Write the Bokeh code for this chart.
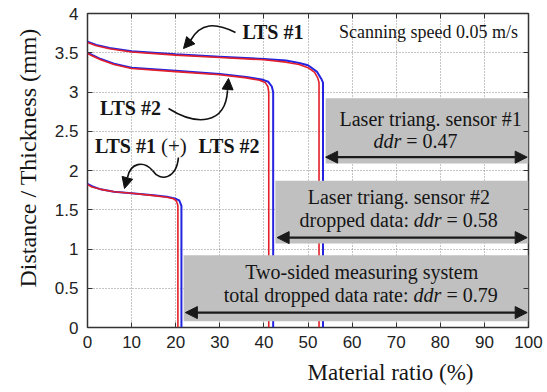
import math
from bokeh.plotting import figure
from bokeh.models import Range1d, FixedTicker, Label, Arrow, NormalHead, LinearAxis, Title
from bokeh.embed import file_html
from bokeh.resources import INLINE

# ---------------- data ----------------
x_ticks = [0, 10, 20, 30, 40, 50, 60, 70, 80, 90, 100]
x_tick_labels = ["0", "10", "20", "30", "40", "50", "60", "70", "80", "90", "100"]
y_ticks = [0.0, 0.5, 1.0, 1.5, 2.0, 2.5, 3.0, 3.5, 4.0]
y_tick_labels = ["0", "0.5", "1", "1.5", "2", "2.5", "3", "3.5", "4"]

# LTS #1 (sensor 1)
lts1_red_x = [0, 2, 5, 10, 20, 30, 40, 45, 48, 50, 51.5, 52.2, 52.5, 52.5]
lts1_red_y = [3.63, 3.59, 3.55, 3.51, 3.47, 3.44, 3.41, 3.38, 3.35, 3.31, 3.25, 3.18, 3.12, 0]
lts1_blue_x = [0, 2, 5, 10, 20, 30, 40, 45, 48, 50, 52, 53, 53.4, 53.4]
lts1_blue_y = [3.64, 3.60, 3.56, 3.52, 3.48, 3.45, 3.42, 3.40, 3.37, 3.34, 3.26, 3.17, 3.12, 0]

# LTS #2 (sensor 2)
lts2_red_x = [0, 1.5, 3, 6, 10, 20, 30, 36, 39, 40.3, 40.9, 41.1, 41.1]
lts2_red_y = [3.49, 3.45, 3.41, 3.35, 3.30, 3.26, 3.22, 3.18, 3.15, 3.12, 3.07, 3.00, 0]
lts2_blue_x = [0, 1.5, 3, 6, 10, 20, 30, 36, 39.5, 41, 41.8, 42.1, 42.1]
lts2_blue_y = [3.50, 3.46, 3.42, 3.36, 3.31, 3.27, 3.23, 3.19, 3.16, 3.13, 3.07, 3.00, 0]

# LTS #1 (+) LTS #2 (two-sided)
lts12_red_x = [0, 1, 3, 6, 10, 15, 18, 19.5, 20.2, 20.5, 20.5]
lts12_red_y = [1.82, 1.79, 1.76, 1.73, 1.71, 1.68, 1.66, 1.64, 1.61, 1.55, 0]
lts12_blue_x = [0, 1, 3, 6, 10, 15, 18, 19.8, 20.8, 21.3, 21.3]
lts12_blue_y = [1.83, 1.80, 1.76, 1.73, 1.71, 1.685, 1.665, 1.645, 1.62, 1.55, 0]

# dropped-data boxes
box_left = [54.0, 42.6, 21.8]
box_right = [100, 100, 100]
box_bottom = [2.09, 1.07, 0.08]
box_top = [2.92, 1.87, 0.92]
span_start = [54.0, 43.0, 22.2]
span_end = [99.7, 99.7, 99.7]
span_y = [2.17, 1.145, 0.19]

# curved pointer arrows (cubic bezier segments + arrow tips)
bz_x0 = [33.56, 18.37, 20.63, 14.74]
bz_y0 = [3.758, 2.790, 2.166, 2.000]
bz_cx0 = [29.02, 24.49, 20.18, 12.70]
bz_cy0 = [3.885, 2.573, 1.898, 2.127]
bz_cx1 = [25.62, 31.29, 16.55, 9.75]
bz_cy1 = [3.885, 2.573, 1.847, 2.102]
bz_x1 = [23.36, 31.75, 14.74, 9.07]
bz_y1 = [3.656, 3.019, 2.000, 1.911]
tip_from_x = [23.36, 31.75, 9.07]
tip_from_y = [3.656, 3.019, 1.911]
tip_x = [21.77, 31.97, 8.39]
tip_y = [3.554, 3.172, 1.771]

# ---------------- figure ----------------
p = figure(width=547, height=392, output_backend="svg", toolbar_location=None,
           x_range=Range1d(0, 100), y_range=Range1d(0, 4),
           min_border_left=87, min_border_right=19, min_border_top=13, min_border_bottom=65)
p.background_fill_color = "white"
p.border_fill_color = "white"
p.outline_line_color = "#333333"
p.outline_line_width = 1.5

for ax, ticks, labels in ((p.xaxis, x_ticks, x_tick_labels), (p.yaxis, y_ticks, y_tick_labels)):
    ax.ticker = FixedTicker(ticks=ticks)
    ax.major_label_overrides = dict(zip(ticks, labels))
    ax.axis_line_color = None
    ax.major_tick_in = 5
    ax.major_tick_out = 0
    ax.minor_tick_in = 0
    ax.minor_tick_out = 0
    ax.major_tick_line_color = "#333333"
    ax.major_label_text_font = "Liberation Sans"
    ax.major_label_text_font_size = "17px"
    ax.major_label_text_color = "#222222"
p.xaxis.major_label_standoff = 8
p.yaxis.major_label_standoff = 9

for loc, ticks in (("above", x_ticks), ("right", y_ticks)):
    a = LinearAxis(ticker=FixedTicker(ticks=ticks), axis_line_color=None,
                   major_tick_in=5, major_tick_out=0, minor_tick_in=0, minor_tick_out=0,
                   major_tick_line_color="#333333", major_label_text_font_size="0px",
                   major_label_text_color=None, major_label_standoff=0)
    p.add_layout(a, loc)

p.xgrid.ticker = FixedTicker(ticks=x_ticks)
p.ygrid.ticker = FixedTicker(ticks=y_ticks)
p.grid.grid_line_color = "#8a8a8a"
p.grid.grid_line_dash = "1 2"
p.grid.grid_line_width = 1

SERIF = "Liberation Serif"

# axis titles (side titles, offset like the reference)
p.add_layout(Title(text="Material ratio (%)", text_font=SERIF, text_font_size="23px",
                   text_font_style="normal", text_color="#151515", align="left",
                   offset=220, standoff=15), "below")
p.add_layout(Title(text="Distance / Thickness (mm)", text_font=SERIF, text_font_size="24px",
                   text_font_style="normal", text_color="#151515", align="left",
                   offset=40, standoff=21), "left")

RED = "#e3202a"
BLUE = "#2424e0"
for bx, by, rx, ry in ((lts1_blue_x, lts1_blue_y, lts1_red_x, lts1_red_y),
                       (lts2_blue_x, lts2_blue_y, lts2_red_x, lts2_red_y),
                       (lts12_blue_x, lts12_blue_y, lts12_red_x, lts12_red_y)):
    p.line(bx, by, line_color=BLUE, line_width=2)
    p.line(rx, ry, line_color=RED, line_width=1.6)

p.quad(left=box_left, right=box_right, bottom=box_bottom, top=box_top,
       fill_color="#c0c0c0", line_color=None)

for xs, xe, yy in zip(span_start, span_end, span_y):
    p.add_layout(Arrow(start=NormalHead(size=12, fill_color="#1a1a1a", line_color="#1a1a1a"),
                       end=NormalHead(size=12, fill_color="#1a1a1a", line_color="#1a1a1a"),
                       x_start=xs, y_start=yy, x_end=xe, y_end=yy,
                       line_color="#1a1a1a", line_width=2.2))

p.bezier(x0=bz_x0, y0=bz_y0, x1=bz_x1, y1=bz_y1, cx0=bz_cx0, cy0=bz_cy0,
         cx1=bz_cx1, cy1=bz_cy1, line_color="#111111", line_width=1.6)
for xs, ys, xe, ye in zip(tip_from_x, tip_from_y, tip_x, tip_y):
    p.add_layout(Arrow(end=NormalHead(size=11, fill_color="#111111", line_color="#111111"),
                       x_start=xs, y_start=ys, x_end=xe, y_end=ye,
                       line_color="#111111", line_width=1.6))


def lab(x, y, text, size="20px", style="normal", align="center"):
    p.add_layout(Label(x=x, y=y, text=text, text_font=SERIF, text_font_size=size,
                       text_font_style=style, text_align=align, text_baseline="middle",
                       text_color="#151515"))

# curve labels
lab(42.06, 3.758, "LTS #1", style="bold")
lab(9.75, 2.80, "LTS #2", style="bold")
lab(8.6, 2.318, "LTS #1", style="bold")
lab(19.6, 2.318, "(+)", size="21px")
lab(32.1, 2.318, "LTS #2", style="bold")
lab(77.3, 3.77, "Scanning speed 0.05 m/s", size="18px")

# box 1
lab(77.8, 2.658, "Laser triang. sensor #1")
lab(71.16, 2.38, "ddr", style="italic", align="right")
lab(72.3, 2.38, "= 0.47", align="left")
# box 2
lab(70.6, 1.66, "Laser triang. sensor #2")
lab(72.9, 1.372, "dropped data:", align="right")
lab(74.0, 1.372, "ddr", style="italic", align="left")
lab(81.4, 1.372, "= 0.58", align="left")
# box 3
lab(62.2, 0.705, "Two-sided measuring system")
lab(72.8, 0.416, "total dropped data rate:", align="right")
lab(73.9, 0.416, "ddr", style="italic", align="left")
lab(81.4, 0.416, "= 0.79", align="left")

open("out.html", "w").write(file_html(p, INLINE))
